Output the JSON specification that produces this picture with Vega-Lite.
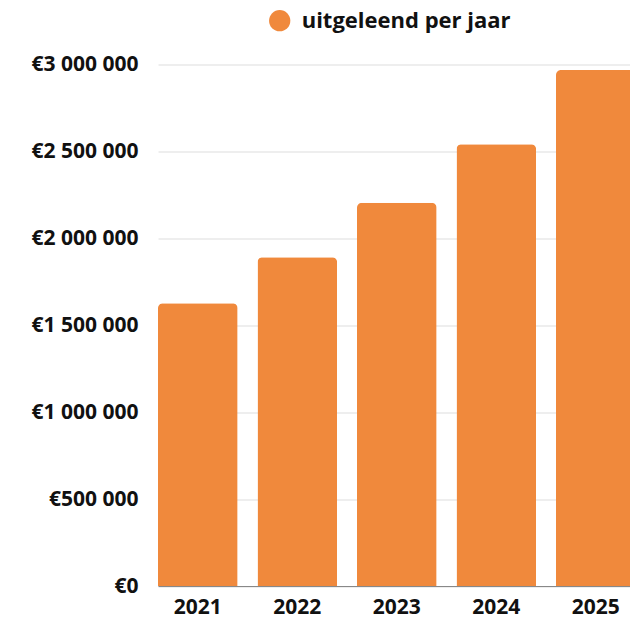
{
  "$schema": "https://vega.github.io/schema/vega-lite/v6.json",
  "width": 472,
  "height": 521.5,
  "autosize": {"type": "none"},
  "padding": {"left": 158, "top": 64.5, "right": 0, "bottom": 32},
  "background": "white",
  "config": {
    "view": {"stroke": null},
    "font": "Open Sans",
    "locale": {
      "number": {"decimal": ",", "thousands": " ", "grouping": [3], "currency": ["€", ""]}
    }
  },
  "data": {
    "values": [
      {"jaar": "2021", "bedrag": 1626000, "reeks": "uitgeleend per jaar"},
      {"jaar": "2022", "bedrag": 1891000, "reeks": "uitgeleend per jaar"},
      {"jaar": "2023", "bedrag": 2205000, "reeks": "uitgeleend per jaar"},
      {"jaar": "2024", "bedrag": 2541000, "reeks": "uitgeleend per jaar"},
      {"jaar": "2025", "bedrag": 2968000, "reeks": "uitgeleend per jaar"}
    ]
  },
  "mark": {"type": "bar", "cornerRadiusTopLeft": 5, "cornerRadiusTopRight": 5},
  "encoding": {
    "x": {
      "field": "jaar",
      "type": "nominal",
      "sort": null,
      "scale": {"range": [0, 477.6], "paddingInner": 0.2, "paddingOuter": 0},
      "axis": {
        "title": null,
        "labelAngle": 0,
        "ticks": false,
        "domainColor": "#888888",
        "domainWidth": 1,
        "labelPadding": 10,
        "labelFontSize": 21,
        "labelFontWeight": "bold",
        "labelColor": "#111111",
        "grid": false
      }
    },
    "y": {
      "field": "bedrag",
      "type": "quantitative",
      "scale": {"domain": [0, 3000000], "nice": false},
      "axis": {
        "title": null,
        "values": [0, 500000, 1000000, 1500000, 2000000, 2500000, 3000000],
        "format": "$,.0f",
        "ticks": false,
        "domain": false,
        "gridColor": "#dddddd",
        "gridWidth": 1,
        "labelPadding": 20,
        "labelFontSize": 21,
        "labelFontWeight": "bold",
        "labelColor": "#111111"
      }
    },
    "color": {
      "field": "reeks",
      "type": "nominal",
      "scale": {"range": ["#f0893c"]},
      "legend": {
        "title": null,
        "orient": "none",
        "legendX": 110.7,
        "legendY": -54.8,
        "symbolType": "circle",
        "symbolSize": 452,
        "symbolStrokeWidth": 0,
        "labelFontSize": 22,
        "labelFontWeight": "bold",
        "labelColor": "#111111",
        "labelOffset": 11,
        "labelLimit": 400,
        "padding": 0
      }
    }
  }
}
